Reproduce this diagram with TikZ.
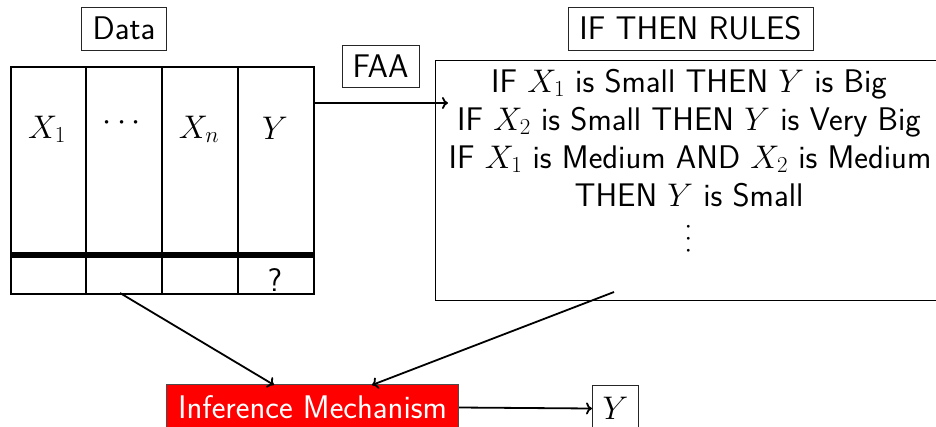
\RequirePackage{fix-cm}
\documentclass[tikz,border=0pt]{standalone}
\usetikzlibrary{arrows.meta}
\begin{document}
\begin{tikzpicture}[x=1pt,y=-1pt,
  every node/.style={font=\fontsize{32.7}{40}\selectfont\sffamily, inner sep=0pt},
  lbl/.style={draw=black!85, line width=1pt},
  tbl/.style={line width=2pt},
  arr/.style={line width=1.8pt, -{To[length=6pt,width=12pt]}},
  ]
\useasboundingbox (0,0) rectangle (936,426);
\clip (0,0) rectangle (936,426);
% Data table
\node[draw, tbl, minimum width=303pt, minimum height=227pt, anchor=north west] (data) at (10,66) {};
\draw[tbl] (86,66) -- (86,293);
\draw[tbl] (162,66) -- (162,293);
\draw[tbl] (238,66) -- (238,293);
\draw[line width=6pt] (10,255) -- (313,255);
\node[anchor=base] (c1) at (47,138) {$X_1$};
\node (c2) at (122,123) {$\cdots$};
\node[anchor=base] (c3) at (199,138) {$X_n$};
\node[anchor=base] (c4) at (275,139) {$Y$};
\node[anchor=base] (q) at (275,291) {?};
% Labels
\node[lbl, minimum width=85pt, minimum height=43pt] (datalbl) at (124,28.5) {Data};
\node[lbl, minimum width=77pt, minimum height=42pt] (faa) at (380.5,66) {FAA};
\node[lbl, minimum width=245pt, minimum height=43pt] (rulelbl) at (690.5,28.5) {IF THEN RULES};
% Rules box
\node[draw, line width=1.3pt, minimum width=540pt, minimum height=240pt, anchor=north west] (rulesbox) at (435,60) {};
\node[anchor=base] (r1) at (689,92) {IF $X_1$ is Small THEN $Y$ is Big};
\node[anchor=base] (r2) at (689,130) {IF $X_2$ is Small THEN $Y$ is Very Big};
\node[anchor=base] (r3) at (690,168) {IF $X_1$ is Medium AND $X_2$ is Medium};
\node[anchor=base] (r4) at (689,206) {THEN $Y$ is Small};
\node[rotate=90, font=\fontsize{27}{30}\selectfont] (rd) at (689,239) {$\cdots$};
% Inference
\node[fill=red, draw=black!70, line width=1pt, minimum width=292pt, minimum height=46pt, anchor=north west, text=white] (inf) at (166,384) {Inference Mechanism};
\node[lbl, minimum width=46pt, minimum height=46pt, anchor=north west] (yout) at (592,385) {$Y$};
% Connectors
\coordinate (fa) at (313,103);
\coordinate (fb) at (448,103);
\coordinate (da) at (120,293);
\coordinate (ra) at (614,292);
\coordinate (ia) at (274,385);
\coordinate (ib) at (372,385);
\draw[arr] (fa) -- (fb);
\draw[arr] (da) -- (ia);
\draw[arr] (ra) -- (ib);
\draw[arr] (inf.east) -- (yout.west);
\end{tikzpicture}
\end{document}
